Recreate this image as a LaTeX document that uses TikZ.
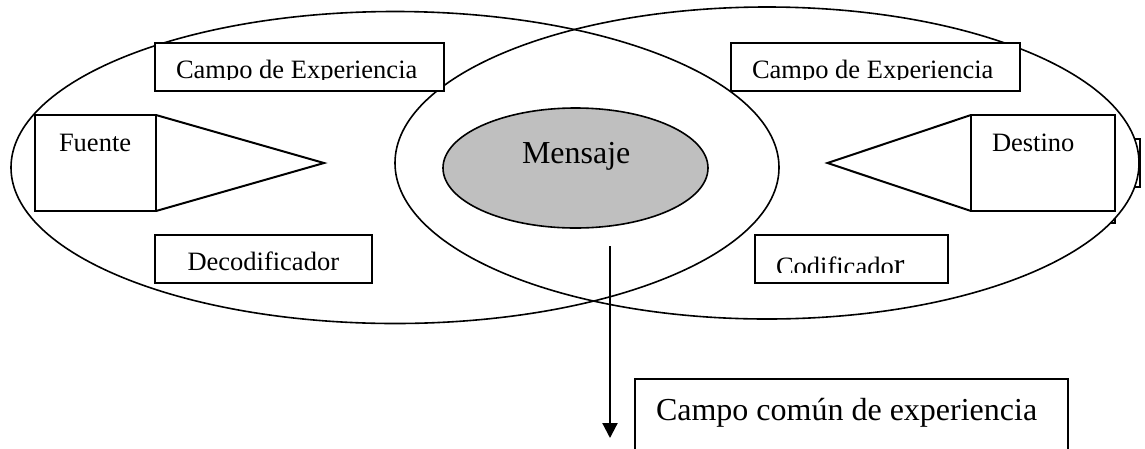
\documentclass[tikz,border=0pt]{standalone}
\usepackage{fontspec}
\setmainfont{Liberation Serif}
\usetikzlibrary{arrows.meta,shapes.geometric}
\tikzset{
  x=1pt,y=-1pt,
  ln/.style={draw=black,line width=2pt},
  curve/.style={draw=black,line width=1.6pt},
  box/.style={rectangle,ln,fill=white,inner sep=0pt,outer sep=0pt},
  lab/.style={anchor=base west,inner sep=0pt,outer sep=0pt,font=\fontsize{26.5}{30}\selectfont,text=black},
  biglab/.style={lab,font=\fontsize{32}{36}\selectfont},
}
\begin{document}
\begin{tikzpicture}
\useasboundingbox (0,0) rectangle (1145,448);
\clip (0,0) rectangle (1145,448);
% remnants of boxes behind the Destino group
\node[box,minimum width=40pt,minimum height=48pt] (backa) at (1120,163) {};
\node[box,minimum width=20pt,minimum height=28pt] (backb) at (1105,209) {};
% large ellipses
\node[ellipse,curve,fill=white,inner sep=0pt,outer sep=0pt,minimum width=744pt,minimum height=312pt] (right) at (767,163) {};
\node[ellipse,curve,inner sep=0pt,outer sep=0pt,minimum width=768pt,minimum height=312pt] (left) at (395,167.5) {};
% message
\node[ellipse,curve,fill=black!25,inner sep=0pt,outer sep=0pt,minimum width=265pt,minimum height=120pt] (msg) at (575.5,168) {};
\node[biglab] (msgt) at (522,163) {Mensaje};
% boxes
\node[box,minimum width=288.5pt,minimum height=48pt] (ceA) at (299.5,67) {};
\node[box,minimum width=121pt,minimum height=96pt] (fuente) at (95.5,163) {};
\node[box,minimum width=217pt,minimum height=48pt] (deco) at (263.5,259) {};
\node[box,minimum width=289pt,minimum height=48pt] (ceB) at (875.5,67) {};
\node[box,minimum width=144pt,minimum height=96pt] (destino) at (1043,163) {};
\node[box,minimum width=193pt,minimum height=48pt] (codi) at (851.5,259) {};
\node[box,minimum width=433pt,minimum height=100pt] (comun) at (851.5,428.5) {};
% triangles
\coordinate (tipA) at (324,163);
\coordinate (tipB) at (827.5,163);
\draw[ln,line join=miter] (fuente.north east) -- (tipA) -- (fuente.south east);
\draw[ln,line join=miter] (destino.north west) -- (tipB) -- (destino.south west);
% labels
\begin{scope}
\clip (160,50) rectangle (440,79.6);
\node[lab] (ceAt) at (176,78) {Campo de Experiencia};
\end{scope}
\begin{scope}
\clip (735,50) rectangle (1015,79.6);
\node[lab] (ceBt) at (752,78) {Campo de Experiencia};
\end{scope}
\node[lab] (fuentet) at (59,151) {Fuente};
\node[lab] (destinot) at (992,151) {Destino};
\node[lab] (decot) at (187.5,270) {Decodificador};
\begin{scope}
\clip (760,245) rectangle (940,272.5);
\node[lab] (codit) at (776,275) {Codificado{\fontsize{32}{36}\selectfont r}};
\end{scope}
\node[lab,font=\fontsize{32}{36}\selectfont] (comunt) at (656,420) {Campo común de experiencia};
% arrow
\coordinate (arrS) at (610,246);
\coordinate (arrE) at (610,438);
\draw[ln,line width=2.2pt,-{Triangle[length=15pt,width=15pt]}] (arrS) -- (arrE);
\end{tikzpicture}
\end{document}
